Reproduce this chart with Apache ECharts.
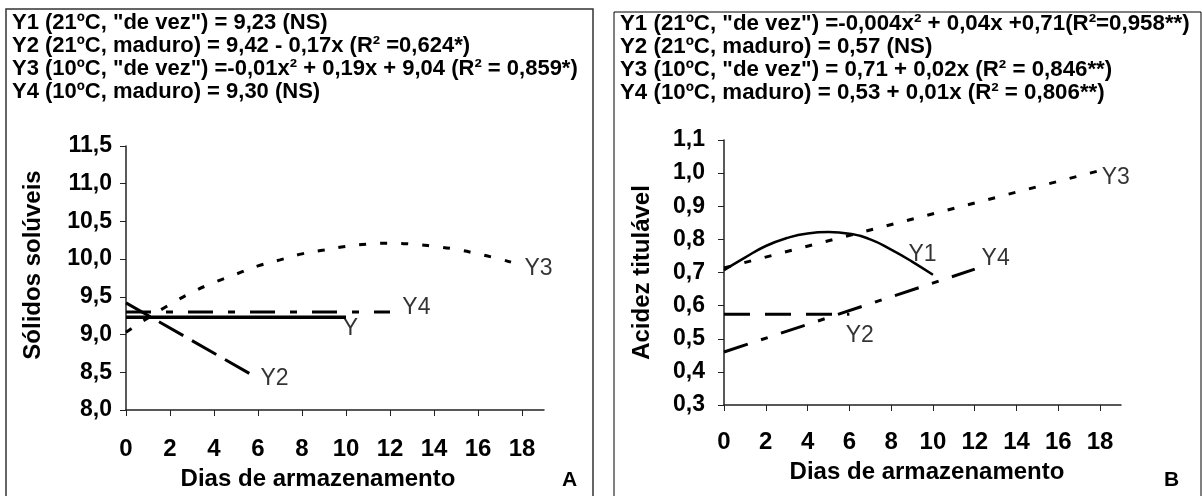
<!DOCTYPE html>
<html>
<head>
<meta charset="utf-8">
<script src="https://cdn.jsdelivr.net/npm/echarts@6/dist/echarts.min.js"></script>
<style>
html, body { margin: 0; padding: 0; background: #fff; }
#main { width: 1202px; height: 496px; }
</style>
</head>
<body>
<div id="main"></div>
<script>
// dias de armazenamento (ticks)
const xTicks = [0, 2, 4, 6, 8, 10, 12, 14, 16, 18];
const yTicksA = [8.0, 8.5, 9.0, 9.5, 10.0, 10.5, 11.0, 11.5];
const yTicksB = [0.3, 0.4, 0.5, 0.6, 0.7, 0.8, 0.9, 1.0, 1.1];

// painel A - sólidos solúveis
const headerA = [
    'Y1 (21ºC, "de vez") = 9,23 (NS)',
    'Y2 (21ºC, maduro) = 9,42 - 0,17x (R² =0,624*)',
    'Y3 (10ºC, "de vez") =-0,01x² + 0,19x + 9,04 (R² = 0,859*)',
    'Y4 (10ºC, maduro) = 9,30 (NS)'
];
const a_y1 = [[0, 9.23], [10, 9.23]];
const a_y2 = [[0, 9.42], [6, 8.42]];
const a_y3 = [[0, 9.03], [1, 9.22], [2, 9.40], [3, 9.56], [4, 9.69], [5, 9.80], [6, 9.91],
    [7, 9.99], [8, 10.07], [9, 10.12], [10, 10.17], [11, 10.20], [12, 10.21], [13, 10.20],
    [14, 10.17], [15, 10.13], [16, 10.07], [17, 10.00], [17.5, 9.96]];
const a_y4 = [[0, 9.30], [12, 9.30]];
const a_labels = [["Y", 10.2, 9.08], ["Y2", 6.75, 8.42], ["Y3", 18.75, 9.87], ["Y4", 13.2, 9.36]];

// painel B - acidez titulável
const headerB = [
    'Y1 (21ºC, "de vez") =-0,004x² + 0,04x +0,71(R²=0,958**)',
    'Y2 (21ºC, maduro) = 0,57 (NS)',
    'Y3 (10ºC, "de vez") = 0,71 + 0,02x (R² = 0,846**)',
    'Y4 (10ºC, maduro) = 0,53 + 0,01x (R² = 0,806**)'
];
const b_y1 = [[0, 0.707], [1, 0.745], [2, 0.780], [3, 0.804], [4, 0.818], [5, 0.822],
    [6, 0.817], [7, 0.800], [8, 0.769], [9, 0.733], [10, 0.693]];
const b_y2 = [[0, 0.574], [6, 0.574]];
const b_y3 = [[0, 0.714], [18, 1.008]];
const b_y4 = [[0, 0.46], [12, 0.71]];
const b_labels = [["Y1", 9.5, 0.753], ["Y2", 6.5, 0.51], ["Y3", 18.75, 0.985], ["Y4", 13.0, 0.743]];

const FONT = "Liberation Sans";
const fmt = v => v.toFixed(1).replace(".", ",");

function xAxisFor(gridIndex, margin, gap, pad) {
    return {
        type: "value", gridIndex: gridIndex, min: 0, max: 19,
        axisLine: { show: true, lineStyle: { color: "#222", width: 1.5 } },
        axisTick: { show: true, customValues: xTicks, length: 6, lineStyle: { color: "#222" } },
        axisLabel: { customValues: xTicks, margin: margin, color: "#000", fontSize: 24, fontWeight: "bold", fontFamily: FONT },
        splitLine: { show: false },
        name: "Dias de armazenamento", nameLocation: "middle", nameGap: gap,
        nameTextStyle: { color: "#000", fontSize: 24, fontWeight: "bold", fontFamily: FONT, padding: pad }
    };
}
function yAxisFor(gridIndex, ticks, name, gap, pad, margin) {
    return {
        type: "value", gridIndex: gridIndex, min: ticks[0], max: ticks[ticks.length - 1],
        axisLine: { show: true, lineStyle: { color: "#222", width: 1.5 } },
        axisTick: { show: true, customValues: ticks, length: 6, lineStyle: { color: "#222" } },
        axisLabel: { customValues: ticks, formatter: fmt, margin: margin, color: "#000", fontSize: 23, fontWeight: "bold", fontFamily: FONT },
        splitLine: { show: false },
        name: name, nameLocation: "middle", nameGap: gap, nameRotate: 90,
        nameTextStyle: { color: "#000", fontSize: 24, fontWeight: "bold", fontFamily: FONT, padding: pad }
    };
}
function line(name, data, idx, type, width, smooth) {
    return {
        name: name, type: "line", xAxisIndex: idx, yAxisIndex: idx, data: data,
        showSymbol: false, smooth: smooth || false, silent: true,
        lineStyle: { color: "#000", width: width, type: type, cap: "butt" }
    };
}
function labels(list, idx) {
    return {
        type: "scatter", xAxisIndex: idx, yAxisIndex: idx, symbolSize: 1, silent: true,
        itemStyle: { color: "rgba(0,0,0,0)" },
        data: list.map(d => ({ name: d[0], value: [d[1], d[2]] })),
        label: { show: true, position: "inside", formatter: p => p.name, color: "#000", fontSize: 23, fontFamily: FONT }
    };
}

let dom = document.getElementById("main");
let myChart = echarts.init(dom, null, { renderer: "canvas" });

let option = {
    animation: false,
    textStyle: { fontFamily: FONT },
    title: [
        { text: headerA.join("\n"), left: 12, top: 11, padding: 0,
          textStyle: { fontSize: 22, fontWeight: "bold", color: "#000", lineHeight: 23, fontFamily: FONT } },
        { text: headerB.join("\n"), left: 620, top: 12, padding: 0,
          textStyle: { fontSize: 22.3, fontWeight: "bold", color: "#000", lineHeight: 23, fontFamily: FONT } }
    ],
    grid: [
        { left: 126, top: 146, width: 418, height: 268 },
        { left: 724, top: 140, width: 397, height: 265 }
    ],
    xAxis: [xAxisFor(0, 27, 57, [0, 34, 0, 0]), xAxisFor(1, 25, 55, [0, 0, 0, 9])],
    yAxis: [
        yAxisFor(0, yTicksA, "Sólidos solúveis", 81, [0, 0, 0, 26], 14),
        yAxisFor(1, yTicksB, "Acidez titulável", 70, [0, 0, 0, 0], 19)
    ],
    series: [
        line("Y1", a_y1, 0, "solid", 3.5),
        line("Y2", a_y2, 0, [28, 10], 3),
        line("Y3", a_y3, 0, [7, 14], 3, true),
        line("Y4", a_y4, 0, [25, 15, 7, 15], 3),
        labels(a_labels, 0),
        line("Y1", b_y1, 1, "solid", 2.5, true),
        line("Y2", b_y2, 1, [26, 15], 3),
        line("Y3", b_y3, 1, [7, 14], 3),
        line("Y4", b_y4, 1, [25, 14, 7, 14], 3),
        labels(b_labels, 1)
    ],
    graphic: [
        { type: "rect", shape: { x: 6, y: 9, width: 587, height: 500 }, style: { fill: null, stroke: "#333", lineWidth: 1.5 }, silent: true },
        { type: "rect", shape: { x: 614, y: 12, width: 587, height: 500 }, style: { fill: null, stroke: "#000", lineWidth: 1 }, silent: true },
        { type: "text", left: 562, top: 470, style: { text: "A", font: "bold 21px Liberation Sans", fill: "#000" } },
        { type: "text", left: 1164, top: 470, style: { text: "B", font: "bold 21px Liberation Sans", fill: "#000" } }
    ]
};

if (option && typeof option === "object") {
    myChart.setOption(option);
}

window.addEventListener("resize", myChart.resize);
</script>
</body>
</html>
